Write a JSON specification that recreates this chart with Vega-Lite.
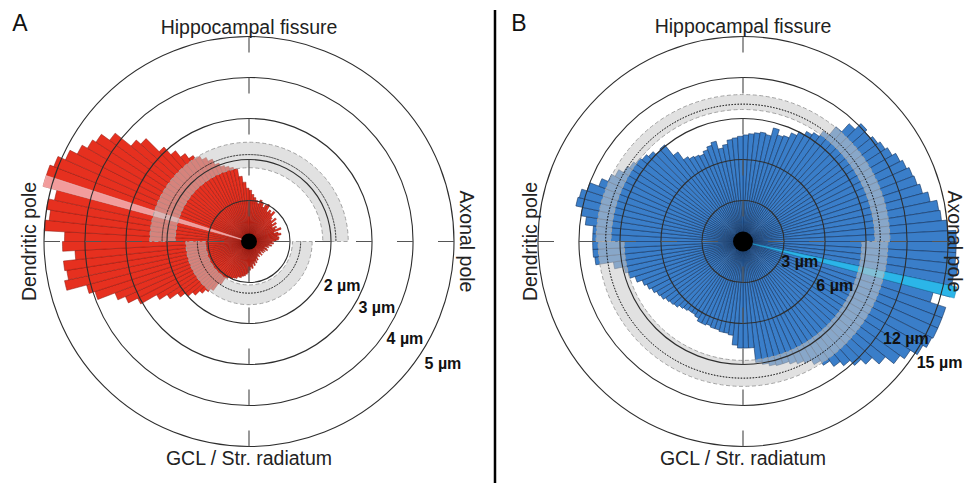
{
"$schema": "https://vega.github.io/schema/vega-lite/v6.json",
"padding": 0,
"spacing": 13,
"background": "white",
"config": {"view": {"stroke": null}, "font": "Liberation Sans"},
"datasets": {
"barsA": [
{"a":0,"b":3,"r":1.25},{"a":3,"b":6,"r":1.15},{"a":6,"b":9,"r":1.08},{"a":9,"b":12,"r":1.02},{"a":12,"b":15,"r":0.95},{"a":15,"b":18,"r":1.05},{"a":18,"b":21,"r":1.0},{"a":21,"b":24,"r":0.9},{"a":24,"b":27,"r":0.98},{"a":27,"b":30,"r":1.02},
{"a":30,"b":33,"r":0.85},{"a":33,"b":36,"r":0.92},{"a":36,"b":39,"r":0.86},{"a":39,"b":42,"r":0.95},{"a":42,"b":45,"r":0.8},{"a":45,"b":48,"r":0.74},{"a":48,"b":51,"r":0.86},{"a":51,"b":54,"r":0.7},{"a":54,"b":57,"r":0.8},{"a":57,"b":60,"r":0.66},
{"a":60,"b":63,"r":0.76},{"a":63,"b":66,"r":0.7},{"a":66,"b":69,"r":0.84},{"a":69,"b":72,"r":0.64},{"a":72,"b":75,"r":0.74},{"a":75,"b":78,"r":0.8},{"a":78,"b":81,"r":0.7},{"a":81,"b":84,"r":0.74},{"a":84,"b":87,"r":0.72},{"a":87,"b":90,"r":0.66},
{"a":90,"b":93,"r":0.56},{"a":93,"b":96,"r":0.6},{"a":96,"b":99,"r":0.5},{"a":99,"b":102,"r":0.56},{"a":102,"b":105,"r":0.46},{"a":105,"b":108,"r":0.5},{"a":108,"b":111,"r":0.4},{"a":111,"b":114,"r":0.46},{"a":114,"b":117,"r":0.5},{"a":117,"b":120,"r":0.4},
{"a":120,"b":123,"r":0.46},{"a":123,"b":126,"r":0.4},{"a":126,"b":129,"r":0.45},{"a":129,"b":132,"r":0.36},{"a":132,"b":135,"r":0.4},{"a":135,"b":138,"r":0.46},{"a":138,"b":141,"r":0.4},{"a":141,"b":144,"r":0.36},{"a":144,"b":147,"r":0.45},{"a":147,"b":150,"r":0.4},
{"a":150,"b":153,"r":0.42},{"a":153,"b":156,"r":0.5},{"a":156,"b":159,"r":0.45},{"a":159,"b":162,"r":0.55},{"a":162,"b":165,"r":0.5},{"a":165,"b":168,"r":0.6},{"a":168,"b":171,"r":0.55},{"a":171,"b":174,"r":0.66},{"a":174,"b":177,"r":0.62},{"a":177,"b":180,"r":0.7},
{"a":180,"b":183,"r":0.76},{"a":183,"b":186,"r":0.8},{"a":186,"b":189,"r":0.84},{"a":189,"b":192,"r":0.86},{"a":192,"b":195,"r":0.9},{"a":195,"b":198,"r":0.9},{"a":198,"b":201,"r":0.95},{"a":201,"b":204,"r":0.96},{"a":204,"b":207,"r":1.0},{"a":207,"b":210,"r":1.0},
{"a":210,"b":213,"r":1.04},{"a":213,"b":216,"r":1.25},{"a":216,"b":219,"r":1.48},{"a":219,"b":222,"r":1.58},{"a":222,"b":225,"r":1.7},{"a":225,"b":228,"r":1.85},{"a":228,"b":231,"r":2.0},{"a":231,"b":234,"r":2.15},{"a":234,"b":237,"r":2.38},{"a":237,"b":240,"r":2.6},
{"a":240,"b":243,"r":3.05},{"a":243,"b":246,"r":3.3},{"a":246,"b":249,"r":3.5},{"a":249,"b":252,"r":3.95},{"a":252,"b":255,"r":4.1},{"a":255,"b":258,"r":4.6},{"a":258,"b":261,"r":4.5},{"a":261,"b":264,"r":4.55},{"a":264,"b":267,"r":4.25},{"a":267,"b":270,"r":4.55},
{"a":270,"b":273,"r":4.5},{"a":273,"b":276,"r":5.0},{"a":276,"b":279,"r":4.9},{"a":279,"b":282,"r":5.0},{"a":282,"b":285,"r":4.85},{"a":285,"b":288,"r":5.2},{"a":288,"b":291,"r":5.2},{"a":291,"b":294,"r":5.1},{"a":294,"b":297,"r":4.9},{"a":297,"b":300,"r":4.7},
{"a":300,"b":303,"r":4.55},{"a":303,"b":306,"r":4.45},{"a":306,"b":309,"r":4.2},{"a":309,"b":312,"r":3.7},{"a":312,"b":315,"r":3.55},{"a":315,"b":318,"r":3.1},{"a":318,"b":321,"r":2.85},{"a":321,"b":324,"r":2.65},{"a":324,"b":327,"r":2.5},{"a":327,"b":330,"r":2.4},
{"a":330,"b":333,"r":2.3},{"a":333,"b":336,"r":2.2},{"a":336,"b":339,"r":2.05},{"a":339,"b":342,"r":1.95},{"a":342,"b":345,"r":1.9},{"a":345,"b":348,"r":1.85},{"a":348,"b":351,"r":1.8},{"a":351,"b":354,"r":1.6},{"a":354,"b":357,"r":1.45},{"a":357,"b":360,"r":1.3}
],
"barsB": [
{"a":0,"b":3,"r":7.8},{"a":3,"b":6,"r":7.9},{"a":6,"b":9,"r":8.0},{"a":9,"b":12,"r":8.1},{"a":12,"b":15,"r":8.0},{"a":15,"b":18,"r":8.6},{"a":18,"b":21,"r":8.2},{"a":21,"b":24,"r":8.3},{"a":24,"b":27,"r":8.7},{"a":27,"b":30,"r":9.0},
{"a":30,"b":33,"r":9.3},{"a":33,"b":36,"r":9.5},{"a":36,"b":39,"r":10.0},{"a":39,"b":42,"r":10.8},{"a":42,"b":45,"r":11.6},{"a":45,"b":48,"r":12.2},{"a":48,"b":51,"r":12.0},{"a":51,"b":54,"r":12.2},{"a":54,"b":57,"r":12.4},{"a":57,"b":60,"r":12.6},
{"a":60,"b":63,"r":12.9},{"a":63,"b":66,"r":13.1},{"a":66,"b":69,"r":13.3},{"a":69,"b":72,"r":13.4},{"a":72,"b":75,"r":13.6},{"a":75,"b":78,"r":14.0},{"a":78,"b":81,"r":14.5},{"a":81,"b":84,"r":14.6},{"a":84,"b":87,"r":15.0},{"a":87,"b":90,"r":15.6},
{"a":90,"b":93,"r":15.6},{"a":93,"b":96,"r":15.6},{"a":96,"b":99,"r":15.8},{"a":99,"b":102,"r":15.6},{"a":102,"b":105,"r":15.7},{"a":105,"b":108,"r":14.4},{"a":108,"b":111,"r":15.6},{"a":111,"b":114,"r":15.6},{"a":114,"b":117,"r":15.6},{"a":117,"b":120,"r":15.5},
{"a":120,"b":123,"r":15.2},{"a":123,"b":126,"r":14.6},{"a":126,"b":129,"r":14.2},{"a":129,"b":132,"r":13.4},{"a":132,"b":135,"r":12.7},{"a":135,"b":138,"r":12.2},{"a":138,"b":141,"r":11.7},{"a":141,"b":144,"r":11.3},{"a":144,"b":147,"r":10.8},{"a":147,"b":150,"r":10.4},
{"a":150,"b":153,"r":10.0},{"a":153,"b":156,"r":9.8},{"a":156,"b":159,"r":9.6},{"a":159,"b":162,"r":9.4},{"a":162,"b":165,"r":9.4},{"a":165,"b":168,"r":9.3},{"a":168,"b":171,"r":9.1},{"a":171,"b":174,"r":8.9},{"a":174,"b":177,"r":7.8},{"a":177,"b":180,"r":7.8},
{"a":180,"b":183,"r":7.8},{"a":183,"b":186,"r":7.6},{"a":186,"b":189,"r":6.9},{"a":189,"b":192,"r":6.8},{"a":192,"b":195,"r":6.8},{"a":195,"b":198,"r":6.7},{"a":198,"b":201,"r":6.7},{"a":201,"b":204,"r":6.6},{"a":204,"b":207,"r":6.7},{"a":207,"b":210,"r":6.7},
{"a":210,"b":213,"r":6.5},{"a":213,"b":216,"r":6.4},{"a":216,"b":219,"r":6.4},{"a":219,"b":222,"r":6.5},{"a":222,"b":225,"r":6.6},{"a":225,"b":228,"r":6.8},{"a":228,"b":231,"r":6.9},{"a":231,"b":234,"r":7.0},{"a":234,"b":237,"r":7.2},{"a":237,"b":240,"r":7.3},
{"a":240,"b":243,"r":7.5},{"a":243,"b":246,"r":7.7},{"a":246,"b":249,"r":7.9},{"a":249,"b":252,"r":8.3},{"a":252,"b":255,"r":8.7},{"a":255,"b":258,"r":8.9},{"a":258,"b":261,"r":9.6},{"a":261,"b":264,"r":10.9},{"a":264,"b":267,"r":11.0},{"a":267,"b":270,"r":11.0},
{"a":270,"b":273,"r":11.0},{"a":273,"b":276,"r":11.0},{"a":276,"b":279,"r":11.6},{"a":279,"b":282,"r":12.0},{"a":282,"b":285,"r":12.5},{"a":285,"b":288,"r":12.4},{"a":288,"b":291,"r":12.0},{"a":291,"b":294,"r":11.3},{"a":294,"b":297,"r":10.8},{"a":297,"b":300,"r":10.5},
{"a":300,"b":303,"r":10.1},{"a":303,"b":306,"r":9.9},{"a":306,"b":309,"r":9.7},{"a":309,"b":312,"r":9.5},{"a":312,"b":315,"r":9.3},{"a":315,"b":318,"r":9.0},{"a":318,"b":321,"r":9.1},{"a":321,"b":324,"r":8.1},{"a":324,"b":327,"r":7.4},{"a":327,"b":330,"r":7.2},
{"a":330,"b":333,"r":7.1},{"a":333,"b":336,"r":7.0},{"a":336,"b":339,"r":7.2},{"a":339,"b":342,"r":7.4},{"a":342,"b":345,"r":7.6},{"a":345,"b":348,"r":7.0},{"a":348,"b":351,"r":7.2},{"a":351,"b":354,"r":7.5},{"a":354,"b":357,"r":7.6},{"a":357,"b":360,"r":7.7}
]
},
"hconcat": [
{
"width": 498, "height": 483,
"layer": [
{"data": {"name": "barsA"}, "mark": {"type": "arc", "fill": "#e6301f", "stroke": "#8a170e", "strokeWidth": 0.5},
 "encoding": {"theta": {"field": "a", "type": "quantitative", "stack": null, "scale": {"domain": [0, 360]}}, "theta2": {"field": "b"},
  "radius": {"field": "r", "type": "quantitative", "stack": null, "scale": {"type": "linear", "domain": [0, 5], "range": [0, 205], "zero": true}}}},
{"data": {"values": [{"a": 285, "b": 288, "r": 5.2}]}, "mark": {"type": "arc", "fill": "#f29c9c", "stroke": "#f7c4c4", "strokeWidth": 0.5},
 "encoding": {"theta": {"field": "a", "type": "quantitative", "stack": null, "scale": {"domain": [0, 360]}}, "theta2": {"field": "b"},
  "radius": {"field": "r", "type": "quantitative", "stack": null, "scale": {"type": "linear", "domain": [0, 5], "range": [0, 205], "zero": true}}}},
{"data": {"values": [{"a": 270, "b": 450, "hi": 2.42, "lo": 1.8}, {"a": 90, "b": 270, "hi": 1.54, "lo": 1.06}]},
 "mark": {"type": "arc", "fill": "#c8c8c8", "fillOpacity": 0.55, "stroke": "#a3a3a3", "strokeDash": [4, 2.5], "strokeWidth": 1},
 "encoding": {"theta": {"field": "a", "type": "quantitative", "stack": null, "scale": {"domain": [0, 360]}}, "theta2": {"field": "b"},
  "radius": {"field": "hi", "type": "quantitative", "stack": null, "scale": {"type": "linear", "domain": [0, 5], "range": [0, 205], "zero": true}}, "radius2": {"field": "lo"}}},
{"data": {"values": [{"a": 270, "b": 450, "m": 2.12}, {"a": 90, "b": 270, "m": 1.26}]},
 "mark": {"type": "arc", "filled": false, "stroke": "#111111", "strokeDash": [1, 2], "strokeWidth": 1},
 "encoding": {"theta": {"field": "a", "type": "quantitative", "stack": null, "scale": {"domain": [0, 360]}}, "theta2": {"field": "b"},
  "radius": {"field": "m", "type": "quantitative", "stack": null, "scale": {"type": "linear", "domain": [0, 5], "range": [0, 205], "zero": true}}, "radius2": {"field": "m"}}},
{"data": {"values": [{"v": 1}, {"v": 2}, {"v": 3}, {"v": 4}, {"v": 5}]},
 "mark": {"type": "arc", "theta": 0, "theta2": 6.2832, "filled": false, "stroke": "#2e2e2e", "strokeWidth": 1.1},
 "encoding": {"radius": {"field": "v", "type": "quantitative", "stack": null, "scale": {"type": "linear", "domain": [0, 5], "range": [0, 205], "zero": true}}}},
{"data": {"values": [{"x": 5, "y": 0, "x2": 0, "y2": 0}, {"x": -5, "y": 0, "x2": 0, "y2": 0}, {"x": 0, "y": 5, "x2": 0, "y2": 0}, {"x": 0, "y": -5, "x2": 0, "y2": 0}]},
 "mark": {"type": "rule", "stroke": "#555555", "strokeWidth": 1.2, "strokeDash": [16, 25]},
 "encoding": {"x": {"field": "x", "type": "quantitative", "scale": {"domain": [-6.0732, 6.0732], "nice": false, "zero": false}, "axis": null},
  "y": {"field": "y", "type": "quantitative", "scale": {"domain": [-5.8902, 5.8902], "nice": false, "zero": false}, "axis": null},
  "x2": {"field": "x2"}, "y2": {"field": "y2"}}},
{"data": {"values": [{"x": 6.0, "y": 5.646, "y2": -5.8902}]},
 "mark": {"type": "rule", "stroke": "#000000", "strokeWidth": 2.5},
 "encoding": {"x": {"field": "x", "type": "quantitative", "scale": {"domain": [-6.0732, 6.0732], "nice": false, "zero": false}, "axis": null},
  "y": {"field": "y", "type": "quantitative", "scale": {"domain": [-5.8902, 5.8902], "nice": false, "zero": false}, "axis": null},
  "y2": {"field": "y2"}}},
{"data": {"values": [{}]}, "mark": {"type": "arc", "theta": 0, "theta2": 6.2832, "radius": 8, "fill": "#000000"}, "encoding": {}},
{"data": {"values": [{"t": "A", "x": -5.585, "y": 5.317}]},
 "mark": {"type": "text", "fontSize": 23, "align": "center", "baseline": "middle", "fill": "#111111"},
 "encoding": {"x": {"field": "x", "type": "quantitative", "scale": {"domain": [-6.0732, 6.0732], "nice": false, "zero": false}, "axis": null},
  "y": {"field": "y", "type": "quantitative", "scale": {"domain": [-5.8902, 5.8902], "nice": false, "zero": false}, "axis": null},
  "text": {"field": "t"}}},
{"data": {"values": [{"t": "Hippocampal fissure", "th": 0, "rr": 5.2, "ang": 0}, {"t": "Axonal pole", "th": 90, "rr": 5.3, "ang": 90}, {"t": "GCL / Str. radiatum", "th": 180, "rr": 5.3, "ang": 0}, {"t": "Dendritic pole", "th": 270, "rr": 5.35, "ang": 270}]},
 "mark": {"type": "text", "fontSize": 19.5, "align": "center", "baseline": "middle", "fill": "#222222"},
 "encoding": {"theta": {"field": "th", "type": "quantitative", "stack": null, "scale": {"domain": [0, 360]}},
  "radius": {"field": "rr", "type": "quantitative", "stack": null, "scale": {"type": "linear", "domain": [0, 5], "range": [0, 205], "zero": true}},
  "angle": {"field": "ang", "type": "quantitative", "scale": null}, "text": {"field": "t"}}},
{"data": {"values": [{"t": "2 µm", "th": 115.8, "rr": 2.52}, {"t": "3 µm", "th": 117.6, "rr": 3.52}, {"t": "4 µm", "th": 121.9, "rr": 4.48}, {"t": "5 µm", "th": 122.2, "rr": 5.59}]},
 "mark": {"type": "text", "fontSize": 16, "fontWeight": "bold", "align": "center", "baseline": "middle", "fill": "#111111"},
 "encoding": {"theta": {"field": "th", "type": "quantitative", "stack": null, "scale": {"domain": [0, 360]}},
  "radius": {"field": "rr", "type": "quantitative", "stack": null, "scale": {"type": "linear", "domain": [0, 5], "range": [0, 205], "zero": true}},
  "text": {"field": "t"}}}
]
},
{
"width": 456, "height": 483,
"layer": [
{"data": {"name": "barsB"}, "mark": {"type": "arc", "fill": "#3a7ec9", "stroke": "#15345e", "strokeWidth": 0.6},
 "encoding": {"theta": {"field": "a", "type": "quantitative", "stack": null, "scale": {"domain": [0, 360]}}, "theta2": {"field": "b"},
  "radius": {"field": "r", "type": "quantitative", "stack": null, "scale": {"type": "linear", "domain": [0, 15], "range": [0, 205], "zero": true}}}},
{"data": {"values": [{"a": 102, "b": 105, "r": 16.0}]}, "mark": {"type": "arc", "fill": "#2bb5e8", "stroke": "#1a86b8", "strokeWidth": 0.5},
 "encoding": {"theta": {"field": "a", "type": "quantitative", "stack": null, "scale": {"domain": [0, 360]}}, "theta2": {"field": "b"},
  "radius": {"field": "r", "type": "quantitative", "stack": null, "scale": {"type": "linear", "domain": [0, 15], "range": [0, 205], "zero": true}}}},
{"data": {"values": [{"a": 270, "b": 450, "hi": 10.75, "lo": 9.66}, {"a": 90, "b": 270, "hi": 10.6, "lo": 8.7}]},
 "mark": {"type": "arc", "fill": "#c8c8c8", "fillOpacity": 0.55, "stroke": "#a3a3a3", "strokeDash": [4, 2.5], "strokeWidth": 1},
 "encoding": {"theta": {"field": "a", "type": "quantitative", "stack": null, "scale": {"domain": [0, 360]}}, "theta2": {"field": "b"},
  "radius": {"field": "hi", "type": "quantitative", "stack": null, "scale": {"type": "linear", "domain": [0, 15], "range": [0, 205], "zero": true}}, "radius2": {"field": "lo"}}},
{"data": {"values": [{"a": 270, "b": 450, "m": 10.05}, {"a": 90, "b": 270, "m": 10.0}]},
 "mark": {"type": "arc", "filled": false, "stroke": "#111111", "strokeDash": [1, 2], "strokeWidth": 1},
 "encoding": {"theta": {"field": "a", "type": "quantitative", "stack": null, "scale": {"domain": [0, 360]}}, "theta2": {"field": "b"},
  "radius": {"field": "m", "type": "quantitative", "stack": null, "scale": {"type": "linear", "domain": [0, 15], "range": [0, 205], "zero": true}}, "radius2": {"field": "m"}}},
{"data": {"values": [{"v": 3}, {"v": 6}, {"v": 9}, {"v": 12}, {"v": 15}]},
 "mark": {"type": "arc", "theta": 0, "theta2": 6.2832, "filled": false, "stroke": "#2e2e2e", "strokeWidth": 1.1},
 "encoding": {"radius": {"field": "v", "type": "quantitative", "stack": null, "scale": {"type": "linear", "domain": [0, 15], "range": [0, 205], "zero": true}}}},
{"data": {"values": [{"x": 15, "y": 0, "x2": 0, "y2": 0}, {"x": -15, "y": 0, "x2": 0, "y2": 0}, {"x": 0, "y": 15, "x2": 0, "y2": 0}, {"x": 0, "y": -15, "x2": 0, "y2": 0}]},
 "mark": {"type": "rule", "stroke": "#555555", "strokeWidth": 1.2, "strokeDash": [16, 25]},
 "encoding": {"x": {"field": "x", "type": "quantitative", "scale": {"domain": [-16.683, 16.683], "nice": false, "zero": false}, "axis": null},
  "y": {"field": "y", "type": "quantitative", "scale": {"domain": [-17.67, 17.67], "nice": false, "zero": false}, "axis": null},
  "x2": {"field": "x2"}, "y2": {"field": "y2"}}},
{"data": {"values": [{}]}, "mark": {"type": "arc", "theta": 0, "theta2": 6.2832, "radius": 10, "fill": "#000000"}, "encoding": {}},
{"data": {"values": [{"t": "B", "x": -16.39, "y": 15.95}]},
 "mark": {"type": "text", "fontSize": 23, "align": "center", "baseline": "middle", "fill": "#111111"},
 "encoding": {"x": {"field": "x", "type": "quantitative", "scale": {"domain": [-16.683, 16.683], "nice": false, "zero": false}, "axis": null},
  "y": {"field": "y", "type": "quantitative", "scale": {"domain": [-17.67, 17.67], "nice": false, "zero": false}, "axis": null},
  "text": {"field": "t"}}},
{"data": {"values": [{"t": "Hippocampal fissure", "th": 0, "rr": 15.7, "ang": 0}, {"t": "Axonal pole", "th": 90, "rr": 15.45, "ang": 90}, {"t": "GCL / Str. radiatum", "th": 180, "rr": 15.95, "ang": 0}, {"t": "Dendritic pole", "th": 270, "rr": 15.5, "ang": 270}]},
 "mark": {"type": "text", "fontSize": 19.5, "align": "center", "baseline": "middle", "fill": "#222222"},
 "encoding": {"theta": {"field": "th", "type": "quantitative", "stack": null, "scale": {"domain": [0, 360]}},
  "radius": {"field": "rr", "type": "quantitative", "stack": null, "scale": {"type": "linear", "domain": [0, 15], "range": [0, 205], "zero": true}},
  "angle": {"field": "ang", "type": "quantitative", "scale": null}, "text": {"field": "t"}}},
{"data": {"values": [{"t": "3 µm", "th": 110.1, "rr": 4.42}, {"t": "6 µm", "th": 116, "rr": 7.47}, {"t": "12 µm", "th": 121, "rr": 13.9}, {"t": "15 µm", "th": 121.7, "rr": 16.9}]},
 "mark": {"type": "text", "fontSize": 16, "fontWeight": "bold", "align": "center", "baseline": "middle", "fill": "#111111"},
 "encoding": {"theta": {"field": "th", "type": "quantitative", "stack": null, "scale": {"domain": [0, 360]}},
  "radius": {"field": "rr", "type": "quantitative", "stack": null, "scale": {"type": "linear", "domain": [0, 15], "range": [0, 205], "zero": true}},
  "text": {"field": "t"}}}
]
}
]
}
